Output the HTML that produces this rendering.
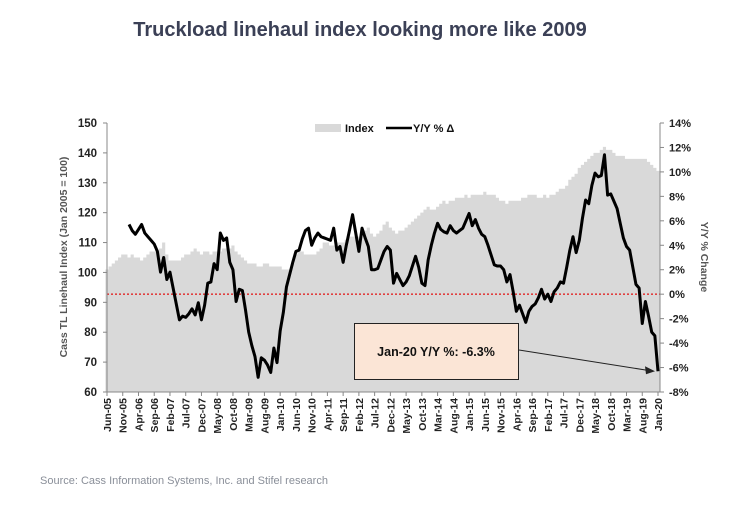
<!DOCTYPE html>
<html><head><meta charset="utf-8"><style>
body{margin:0;background:#fff;width:753px;height:504px;overflow:hidden;font-family:"Liberation Sans",sans-serif}
</style></head><body>
<svg id="c" width="753" height="504" xmlns="http://www.w3.org/2000/svg">
<text x="360" y="36" text-anchor="middle" font-size="20" font-weight="bold" fill="#3b4056">Truckload linehaul index looking more like 2009</text>
<text x="40" y="484" font-size="11" fill="#8a8f99">Source: Cass Information Systems, Inc. and Stifel research</text>
</svg>
<script>
const monthLabels=["Jun-05","Nov-05","Apr-06","Sep-06","Feb-07","Jul-07","Dec-07","May-08","Oct-08","Mar-09","Aug-09","Jan-10","Jun-10","Nov-10","Apr-11","Sep-11","Feb-12","Jul-12","Dec-12","May-13","Oct-13","Mar-14","Aug-14","Jan-15","Jun-15","Nov-15","Apr-16","Sep-16","Feb-17","Jul-17","Dec-17","May-18","Oct-18","Mar-19","Aug-19","Jan-20"];
const leftTicks=[60,70,80,90,100,110,120,130,140,150];
const rightTicks=[-8,-6,-4,-2,0,2,4,6,8,10,12,14];
const indexValues=[101,102,103,104,105,106,106,105,106,105,105,104,105,106,107,107,107,108,110,106,104,104,104,104,105,106,106,107,108,107,106,107,107,106,107,107,107,108,108,108,109,107,106,105,104,103,103,103,102,102,103,103,102,102,102,102,101,101,101,103,106,107,107,106,106,106,106,107,108,110,110,109,109,110,110,110,111,112,112,112,112,113,114,115,113,112,113,114,116,117,115,114,113,114,114,115,116,117,118,119,120,121,122,121,121,122,123,124,123,124,124,125,125,125,126,125,126,126,126,126,127,126,126,126,125,124,124,123,124,124,124,124,125,125,126,126,126,125,125,126,125,126,126,127,128,128,129,131,132,133,135,136,137,138,139,140,140,141,142,141,141,140,139,139,139,138,138,138,138,138,138,138,137,136,135,134];
const yoyValues=[null,null,null,null,null,null,null,5.7,5.2,4.9,5.3,5.7,5.0,4.7,4.4,4.1,3.5,1.8,3.0,1.2,1.8,0.5,-0.8,-2.1,-1.8,-1.9,-1.6,-1.2,-1.7,-0.7,-2.1,-0.9,0.9,1.0,2.5,2.0,5.0,4.4,4.6,2.6,2.0,-0.6,0.4,0.3,-1.3,-3.1,-4.2,-5.1,-6.8,-5.2,-5.4,-5.8,-6.4,-4.4,-5.6,-3.0,-1.5,0.6,1.6,2.6,3.5,3.6,4.5,5.2,5.4,4.0,4.6,5.0,4.7,4.6,4.5,4.4,5.4,3.6,3.9,2.6,4.0,5.2,6.5,5.0,3.5,5.4,4.6,3.9,2.0,2.0,2.1,2.8,3.5,3.9,3.6,0.9,1.7,1.2,0.7,1.0,1.5,2.3,3.1,2.2,0.9,0.7,2.8,4.0,5.0,5.8,5.3,5.1,5.0,5.6,5.2,5.0,5.2,5.4,6.0,6.6,5.6,6.1,5.4,4.9,4.7,4.0,3.2,2.4,2.3,2.3,2.0,1.0,1.6,0.2,-1.4,-0.9,-1.6,-2.3,-1.4,-1.0,-0.8,-0.3,0.4,-0.4,0.0,-0.6,0.2,0.5,1.0,0.9,2.2,3.6,4.7,3.4,4.4,6.2,7.7,7.4,8.9,9.9,9.6,9.7,11.4,8.1,8.2,7.6,7.0,5.8,4.6,3.9,3.6,2.2,0.8,0.5,-2.4,-0.6,-1.8,-3.1,-3.4,-6.3];
const annotationText="Jan-20 Y/Y %: -6.3%";

const svg=document.getElementById('c');const NS="http://www.w3.org/2000/svg";
const X0=107,X1=658,YT=123,YB=392,N=indexValues.length;
const xs=i=>X0+(X1-X0)*i/(N-1);
const yl=v=>YB-(v-60)/90*(YB-YT);
const yr=v=>YB-(v+8)/22*(YB-YT);
function mk(t,a,p){const e=document.createElementNS(NS,t);for(const k in a)e.setAttribute(k,a[k]);(p||svg).appendChild(e);return e;}
const hw=(X1-X0)/(N-1)/2;
let d=`M${xs(0)-hw},${YB}`;
indexValues.forEach((v,i)=>{d+=` L${xs(i)-hw},${yl(v)} L${xs(i)+hw},${yl(v)}`;});
d+=` L${xs(N-1)+hw},${YB} Z`;
const area=mk('path',{d:d,fill:'#d9d9d9'});


const zl=mk('line',{x1:X0,x2:X1+2,y1:yr(0),y2:yr(0),stroke:'#e04040','stroke-width':1.6,'stroke-dasharray':'2,2'});


let ld='';let st=true;
yoyValues.forEach((v,i)=>{if(v===null)return;ld+=(st?'M':' L')+xs(i)+','+yr(v);st=false;});
const ln=mk('path',{d:ld,fill:'none',stroke:'#000','stroke-width':3,'stroke-linejoin':'round'});


// axes
mk('line',{x1:X0,x2:X0,y1:YT,y2:YB,stroke:'#888'});
mk('line',{x1:X1+2,x2:X1+2,y1:YT,y2:YB,stroke:'#888'});
mk('line',{x1:X0,x2:X1+2,y1:YB,y2:YB,stroke:'#888'});
leftTicks.forEach(v=>{const y=yl(v);mk('line',{x1:X0-4,x2:X0,y1:y,y2:y,stroke:'#888'});
const t=mk('text',{x:97,y:y+4,'text-anchor':'end','font-size':11.5,'font-weight':'bold',fill:'#222'});t.textContent=v;

});
rightTicks.forEach(v=>{const y=yr(v);mk('line',{x1:X1+2,x2:X1+6,y1:y,y2:y,stroke:'#888'});
const t=mk('text',{x:669,y:y+4,'font-size':11,'font-weight':'bold',fill:'#222'});t.textContent=v+'%';

});
monthLabels.forEach((s,k)=>{const x=xs(k*5);mk('line',{x1:x,x2:x,y1:YB,y2:YB+4,stroke:'#888'});
const t=mk('text',{x:0,y:0,transform:`translate(${x+4},${YB+6}) rotate(-90)`,'text-anchor':'end','font-size':10.5,'font-weight':'bold',fill:'#222'});t.textContent=s;

});
const lt=mk('text',{x:0,y:0,transform:`translate(67,257) rotate(-90)`,'text-anchor':'middle','font-size':10.5,'font-weight':'bold',fill:'#555'});lt.textContent='Cass TL Linehaul Index (Jan 2005 = 100)';


const rt=mk('text',{x:0,y:0,transform:`translate(701,257) rotate(90)`,'text-anchor':'middle','font-size':10.5,'font-weight':'bold',fill:'#555'});rt.textContent='Y/Y % Change';


// legend
const lg=mk('g',{});


mk('rect',{x:315,y:124,width:26,height:8,fill:'#d9d9d9'},lg);
const l1=mk('text',{x:345,y:132,'font-size':11,'font-weight':'bold',fill:'#111'},lg);l1.textContent='Index';
mk('line',{x1:386,x2:412,y1:128,y2:128,stroke:'#000','stroke-width':2.5},lg);
const l2=mk('text',{x:413,y:132,'font-size':11,'font-weight':'bold',fill:'#111'},lg);l2.textContent='Y/Y % Δ';
// annotation
const ab=mk('rect',{x:354.5,y:323.5,width:164,height:56,fill:'#fbe5d6',stroke:'#222','stroke-width':1});


const at=mk('text',{x:436,y:356,'text-anchor':'middle','font-size':12.5,'font-weight':'bold',fill:'#111'});at.textContent=annotationText;


const ax=xs(N-1)-3,ay=yr(yoyValues[N-1]);
mk('line',{x1:519,y1:350,x2:ax-8,y2:ay-1,stroke:'#222','stroke-width':1});
mk('polygon',{points:`${ax},${ay} ${ax-10},${ay-5} ${ax-9},${ay+3}`,fill:'#222'});
</script>
</body></html>
